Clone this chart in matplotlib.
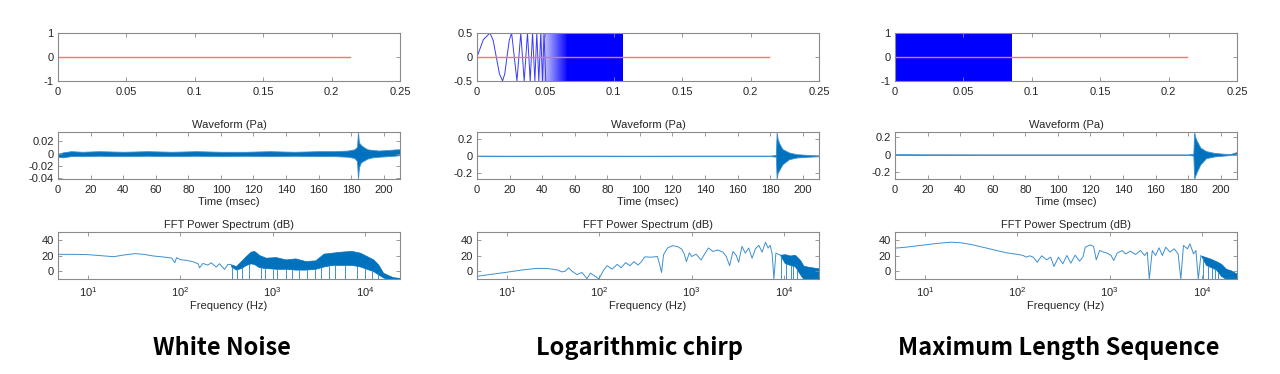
import matplotlib
matplotlib.use("Agg")
import matplotlib.pyplot as plt
from matplotlib.colors import ListedColormap
import numpy as np

plt.rcParams['font.family'] = ['Liberation Sans', 'DejaVu Sans']

# ---- 1행: 입력 신호 (sec) ----
red_end = 0.2133                    # 빨간 기준선 끝 (s)
chirp_t = [0, 0.0046, 0.0095, 0.0118, 0.0141, 0.0164, 0.0187, 0.0203, 0.0219, 0.0236,
           0.0253, 0.0292, 0.0320, 0.0345, 0.0369, 0.0389, 0.0406, 0.0423, 0.0437,
           0.0452, 0.0466, 0.0479, 0.0490, 0.0503]
chirp_v = [0, 0.36, 0.5, 0.35, 0, -0.35, -0.5, -0.35, 0, 0.35,
           0.5, -0.5, 0.5, -0.5, 0.5, -0.5, 0.5, -0.5, 0.5,
           -0.5, 0.5, -0.5, 0.5, -0.5]
chirp_fade = (0.046, 0.066)         # 선이 점점 촘촘해지는 구간
chirp_end = 0.107
mls_end = 0.0853

# ---- 2행: 측정 파형 (msec), 상/하 포락선 ----
wn_t = [0, 3, 8, 15, 25, 40, 55, 70, 85, 100, 115, 130, 145, 160, 170, 178, 182,
        183.6, 184.2, 184.8, 186, 188, 190, 193, 197, 203, 208, 210]
wn_hi = [0.0, 0.002, 0.004, 0.003, 0.004, 0.003, 0.004, 0.003, 0.004, 0.003, 0.003,
         0.004, 0.003, 0.004, 0.004, 0.005, 0.007, 0.011, 0.035, 0.018, 0.014, 0.010,
         0.007, 0.006, 0.005, 0.006, 0.007, 0.007]
wn_lo = [-0.005, -0.006, -0.004, -0.004, -0.0035, -0.004, -0.0035, -0.004, -0.0035, -0.004,
         -0.0035, -0.004, -0.0035, -0.004, -0.004, -0.005, -0.007, -0.012, -0.041, -0.022,
         -0.014, -0.011, -0.008, -0.006, -0.005, -0.004, -0.003, -0.002]

lc_t = [0, 20, 60, 100, 140, 180, 183.5, 184.0, 184.6, 185.5, 187.5, 191.5, 196, 202, 206, 210]
lc_hi = [0.003, 0.002, 0.003, 0.002, 0.003, 0.003, 0.01, 0.28, 0.2, 0.15, 0.08, 0.04, 0.02, 0.012, 0.008, 0.006]
lc_lo = [-0.003, -0.002, -0.003, -0.002, -0.003, -0.003, -0.01, -0.272, -0.2, -0.17, -0.1, -0.04, -0.02, -0.012, -0.008, -0.006]

mls_t = [0, 20, 60, 100, 140, 180, 183.2, 183.7, 184.3, 185.2, 187.5, 191, 196, 202, 206, 209, 210]
mls_hi = [0.006, 0.004, 0.003, 0.003, 0.003, 0.003, 0.01, 0.257, 0.2, 0.16, 0.08, 0.04, 0.02, 0.01, 0.008, 0.025, 0.03]
mls_lo = [-0.004, -0.004, -0.003, -0.003, -0.003, -0.003, -0.01, -0.276, -0.24, -0.2, -0.11, -0.04, -0.02, -0.01, -0.004, 0.005, 0.01]

# ---- 3행: FFT 파워 스펙트럼 (Hz, dB) ----
wn_f = [4.8, 7.0, 10, 13.6, 18.9, 24.2, 32.3, 39.7, 50.8, 65.1, 80, 86.9, 90.6, 100, 116,
        137, 155, 161, 175, 198, 215, 244, 265, 300, 326, 354]
wn_db = [21.5, 21.5, 21.1, 19.8, 18.5, 20.6, 22.4, 21.5, 19.4, 18.1, 16.8, 10.8, 17.2, 14.6,
         13.8, 12.0, 9.5, 4.3, 9.9, 7.7, 10.8, 5.2, 9.5, 2.2, 8.6, 8.6]
wn_bf = [354, 400, 453, 513, 580, 630, 713, 841, 1077, 1380, 1767, 2264, 2900, 3562, 4385,
         5617, 7194, 8838, 10420, 12300, 13910, 15740, 17820, 20180, 24000]
wn_bhi = [8.6, 6.5, 12.9, 19.4, 25.0, 25.8, 20.6, 17.2, 18.0, 15.0, 16.3, 12.9, 13.8, 22.4,
          23.6, 25.0, 25.8, 23.6, 19.4, 15.0, 8.6, -2.0, -5.0, -7.7, -8.6]
wn_blo = [6, 2, 4, 8, 10, 9, 5, 4, 3, 3, 2, 2, 3, 6, 8, 8, 8, 6, 3, 0, -4, -8, -10, -10, -10]
wn_dips = [359, 407, 464, 547, 743, 820, 1008, 1122, 1403, 1627, 1919, 2359, 2900, 3364,
           4035, 4755, 6095, 8130, 10000, 11800, 13900]

lc_f = [4.7, 6.47, 10, 14.9, 20.9, 26.8, 34.5, 39.2, 42.6, 46.3, 50.3, 57, 64.7, 73.3, 79.7,
        86.7, 98.3, 111, 121, 137, 156, 172, 192, 214, 237, 262, 285, 310, 360, 425, 451,
        471, 495, 547, 620, 704, 778, 832, 875, 944, 1000, 1114, 1264, 1397, 1520, 1695,
        1922, 2180, 2370, 2578, 2801, 3045, 3229, 3510, 3815, 4150, 4516, 4910, 5340, 5800,
        6310, 6745, 7095, 7460, 7780, 8180, 9040]
lc_db = [-6.5, -4.3, -1.3, 1.7, 3.5, 3.5, 1.7, -0.9, 0, 4.3, 0, -4.3, -1.7, -9.6, -2.6,
         -5.2, -10, 1.3, 7.0, 2.6, 8.7, 4.3, 10.9, 7.0, 12.2, 7.8, 12.2, 18.3, 17.8, 18.7, 7.8,
         -1.7, 20.9, 29.6, 32.6, 31.3, 28.3, 21.7, 12.2, 23.5, 18.7, 21.7, 14.3, 23.0, 29.6, 25.2,
         27.0, 24.3, 18.7, 7.0, 25.2, 20.0, 11.3, 31.7, 23.0, 29.6, 16.5, 28.7, 33.0, 24.3,
         37.0, 29.6, 33.0, 21.7, -10, 23.0, 20.9]
lc_bf = [9040, 10250, 11620, 13180, 14950, 16260, 18420, 21770, 24000]
lc_bhi = [20.9, 21.7, 20.0, 20.9, 14.3, 7.0, 5.6, 4.3, 3.5]
lc_blo = [20.9, 10, 8, 6, -4, -10, -10, -10, -10]
lc_dips = [9270, 10420, 11920, 12640, 13740]

mls_f = [4.7, 6.15, 10, 14.2, 19, 24.5, 32.8, 49.9, 75.8, 102, 115, 125, 136, 148, 164, 183,
         207, 229, 249, 278, 310, 343, 379, 422, 471, 512, 543, 616, 669, 715, 778, 860, 936,
         1035, 1107, 1204, 1365, 1484, 1680, 1905, 2160, 2390, 2556, 2687, 2896, 3148, 3427,
         3724, 4050, 4515, 4990, 5520, 5900, 6310, 6980, 7400, 8110, 8600, 9130, 9750]
mls_db = [29.4, 30.6, 33.6, 35.7, 37.0, 36.2, 33.6, 28.5, 23.4, 21.3, 20.0, 17.9, 19.6, 17.9,
          11.5, 19.6, 14.5, 17.9, 6.0, 17.9, 9.4, 20.0, 10.2, 20.4, 12.8, 17.9, 30.6, 33.6,
          31.5, 14.5, 26.4, 24.3, 23.0, 20.0, 13.6, 23.0, 26.4, 22.1, 25.5, 21.3, 26.4, 20.0,
          24.3, -10, 26.4, 20.0, 29.8, 20.0, 30.6, 24.3, 28.5, 22.1, -10, 32.8, 28.5, 34.9,
          22.1, 26.4, -10, 20.0]
mls_bf = [9750, 11060, 12530, 14220, 16110, 18280, 20710, 24000]
mls_bhi = [20.0, 17.9, 15.7, 12.8, 9.4, 3.0, 0.9, -3.4]
mls_blo = [20.0, 8, 5, 2, -6, -10, -10, -10]
mls_dips = [10160, 11530, 12740, 13860, 15070]

captions = ['White Noise', 'Logarithmic chirp', 'Maximum Length Sequence']
cap_x = [222, 640, 1059]

blue = '#0072BD'
W, H = 1280, 374
fig = plt.figure(figsize=(12.8, 3.74), dpi=100)

lefts = [58, 477, 895]
rows = [(33, 81), (132, 179), (232, 279)]


def make_ax(col, row):
    t, b = rows[row]
    ax = fig.add_axes([lefts[col] / W, 1 - b / H, 342 / W, (b - t) / H])
    for s in ax.spines.values():
        s.set_color('#8a8a8a')
        s.set_linewidth(0.8)
    ax.tick_params(direction='in', length=3, width=0.6, top=True, right=True,
                   labelsize=8, colors='#8a8a8a', labelcolor='#262626')
    ax.tick_params(axis='x', pad=4.5)
    ax.tick_params(axis='y', pad=3)
    return ax


def style_row1(ax, lim, ticks):
    ax.set_xlim(0, 0.25)
    ax.set_xticks([0, 0.05, 0.1, 0.15, 0.2, 0.25])
    ax.set_xticklabels(['0', '0.05', '0.1', '0.15', '0.2', '0.25'])
    ax.set_ylim(-lim, lim)
    ax.set_yticks(ticks)
    ax.set_yticklabels([('%g' % v) for v in ticks])


# 1행
ax = make_ax(0, 0)
ax.plot([0, red_end], [0, 0], color='#ff7070', lw=1)
style_row1(ax, 1, [-1, 0, 1])

ax = make_ax(1, 0)
ax.plot(chirp_t, chirp_v, color='#3a3aff', lw=0.7)
fade = ListedColormap([(0, 0, 1, a) for a in np.linspace(0.1, 1, 64)])
ax.imshow(np.linspace(0, 1, 64)[None, :], cmap=fade, aspect='auto',
          extent=[chirp_fade[0], chirp_fade[1], -0.5, 0.5], interpolation='bilinear')
ax.fill_between([chirp_fade[1], chirp_end], -0.5, 0.5, color='#0000ff', lw=0)
ax.plot([0, red_end], [0, 0], color='#ff7070', lw=1)
style_row1(ax, 0.5, [-0.5, 0, 0.5])

ax = make_ax(2, 0)
ax.fill_between([0, mls_end], -1, 1, color='#0000ff', lw=0)
ax.plot([0, red_end], [0, 0], color='#ff7070', lw=1)
style_row1(ax, 1, [-1, 0, 1])

# 2행
wave = [(wn_t, wn_hi, wn_lo, (-0.041, 0.035), [-0.04, -0.02, 0, 0.02]),
        (lc_t, lc_hi, lc_lo, (-0.272, 0.28), [-0.2, 0, 0.2]),
        (mls_t, mls_hi, mls_lo, (-0.276, 0.257), [-0.2, 0, 0.2])]
for c, (t, hi, lo, yl, yt) in enumerate(wave):
    ax = make_ax(c, 1)
    ax.fill_between(t, lo, hi, color=blue, lw=0.6, edgecolor='#3d8fd0')
    ax.set_xlim(0, 210)
    ax.set_xticks(range(0, 201, 20))
    ax.set_ylim(*yl)
    ax.set_yticks(yt)
    ax.set_yticklabels([('%g' % v) for v in yt])
    ax.set_title('Waveform (Pa)', fontsize=8, pad=3, color='#262626')
    ax.set_xlabel('Time (msec)', fontsize=8, labelpad=1.5, color='#262626')

# 3행
spec = [(wn_f, wn_db, wn_bf, wn_bhi, wn_blo, wn_dips),
        (lc_f, lc_db, lc_bf, lc_bhi, lc_blo, lc_dips),
        (mls_f, mls_db, mls_bf, mls_bhi, mls_blo, mls_dips)]
for c, (f, db, bf, bhi, blo, dips) in enumerate(spec):
    ax = make_ax(c, 2)
    ax.plot(f, db, color='#3d8fd0', lw=0.7)
    ax.fill_between(bf, blo, bhi, color=blue, lw=0.5, edgecolor=blue)
    ax.vlines(dips, -10, np.interp(dips, bf, blo), color='#3d8fd0', lw=0.7)
    ax.set_xscale('log')
    ax.set_xlim(4.7, 24000)
    ax.set_xticks([10, 100, 1000, 10000])
    ax.minorticks_off()
    ax.set_ylim(-10, 50)
    ax.set_yticks([0, 20, 40])
    ax.set_title('FFT Power Spectrum (dB)', fontsize=8, pad=3, color='#262626')
    ax.set_xlabel('Frequency (Hz)', fontsize=8, labelpad=1.5, color='#262626')

for name, x in zip(captions, cap_x):
    fig.text(x / W, 1 - 348 / H, name, ha='center', va='center', fontsize=17,
             fontweight='bold', family=['Noto Sans CJK KR', 'DejaVu Sans'])

fig.savefig('out.png', dpi=100)
